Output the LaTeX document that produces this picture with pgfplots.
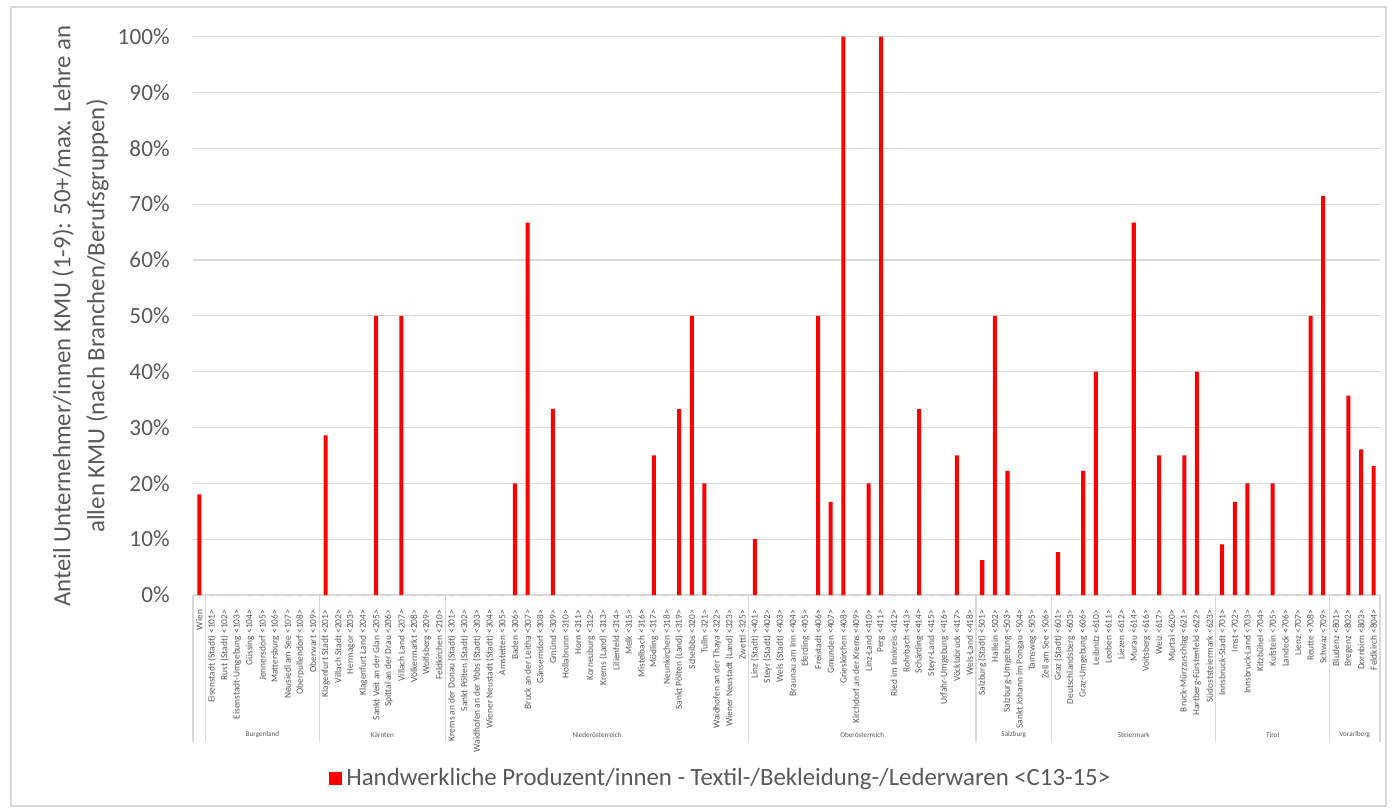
\documentclass[border=0pt]{standalone}
\usepackage{pgfplots}
\pgfplotsset{compat=1.18}
\usepackage{pgfplotstable}
\usepackage{fontspec}
\setmainfont{Carlito}
\definecolor{textgray}{HTML}{595959}
\definecolor{gridgray}{HTML}{D9D9D9}
\definecolor{barred}{HTML}{FF0000}

% Anteil in Prozent je Bezirk (Index 0 = Wien, dann Bundesländer in Reihenfolge)
\pgfplotstableread{
x y
0 18.0
1 0
2 0
3 0
4 0
5 0
6 0
7 0
8 0
9 0
10 28.57
11 0
12 0
13 0
14 50
15 0
16 50
17 0
18 0
19 0
20 0
21 0
22 0
23 0
24 0
25 20
26 66.67
27 0
28 33.33
29 0
30 0
31 0
32 0
33 0
34 0
35 0
36 25
37 0
38 33.33
39 50
40 20
41 0
42 0
43 0
44 10
45 0
46 0
47 0
48 0
49 50
50 16.67
51 100
52 0
53 20
54 100
55 0
56 0
57 33.33
58 0
59 0
60 25
61 0
62 6.25
63 50
64 22.22
65 0
66 0
67 0
68 7.69
69 0
70 22.22
71 40
72 0
73 0
74 66.67
75 0
76 25
77 0
78 25
79 40
80 0
81 9.09
82 16.67
83 20
84 0
85 20
86 0
87 0
88 50
89 71.43
90 0
91 35.71
92 26.09
93 23.08
}\kmudata

\begin{document}
\begin{tikzpicture}
\useasboundingbox (0,0) rectangle (696pt,405.5pt);
\draw[gridgray, line width=0.75pt] (5.5pt,2.5pt) rectangle (693pt,402pt);
\begin{axis}[
  at={(96.5pt,108pt)}, anchor=south west,
  scale only axis, width=593.5pt, height=279.2pt,
  xmin=-0.5, xmax=93.5, ymin=0, ymax=100,
  clip=false,
  ybar, bar width=0.32,
  axis x line*=bottom, axis y line*=left,
  x axis line style={draw=gridgray, line width=0.6pt},
  y axis line style={draw=none},
  ymajorgrids, grid style={draw=gridgray, line width=0.6pt},
  ytick={0,10,20,30,40,50,60,70,80,90,100},
  yticklabels={0\%,10\%,20\%,30\%,40\%,50\%,60\%,70\%,80\%,90\%,100\%},
  yticklabel style={font=\fontsize{11.6}{13}\selectfont, text=textgray, inner sep=0pt, xshift=-11.5pt},
  ytick style={draw=none},
  xtick={0,...,93},
  xticklabels={Wien,
    Eisenstadt (Stadt) <101>,Rust (Stadt) <102>,Eisenstadt-Umgebung <103>,Güssing <104>,Jennersdorf <105>,Mattersburg <106>,Neusiedl am See <107>,Oberpullendorf <108>,Oberwart <109>,
    Klagenfurt Stadt <201>,Villach Stadt <202>,Hermagor <203>,Klagenfurt Land <204>,Sankt Veit an der Glan <205>,Spittal an der Drau <206>,Villach Land <207>,Völkermarkt <208>,Wolfsberg <209>,Feldkirchen <210>,
    Krems an der Donau (Stadt) <301>,Sankt Pölten (Stadt) <302>,Waidhofen an der Ybbs (Stadt) <303>,Wiener Neustadt (Stadt) <304>,Amstetten <305>,Baden <306>,Bruck an der Leitha <307>,Gänserndorf <308>,Gmünd <309>,Hollabrunn <310>,Horn <311>,Korneuburg <312>,Krems (Land) <313>,Lilienfeld <314>,Melk <315>,Mistelbach <316>,Mödling <317>,Neunkirchen <318>,Sankt Pölten (Land) <319>,Scheibbs <320>,Tulln <321>,Waidhofen an der Thaya <322>,Wiener Neustadt (Land) <323>,Zwettl <325>,
    Linz (Stadt) <401>,Steyr (Stadt) <402>,Wels (Stadt) <403>,Braunau am Inn <404>,Eferding <405>,Freistadt <406>,Gmunden <407>,Grieskirchen <408>,Kirchdorf an der Krems <409>,Linz-Land <410>,Perg <411>,Ried im Innkreis <412>,Rohrbach <413>,Schärding <414>,Steyr-Land <415>,Urfahr-Umgebung <416>,Vöcklabruck <417>,Wels-Land <418>,
    Salzburg (Stadt) <501>,Hallein <502>,Salzburg-Umgebung <503>,Sankt Johann im Pongau <504>,Tamsweg <505>,Zell am See <506>,
    Graz (Stadt) <601>,Deutschlandsberg <603>,Graz-Umgebung <606>,Leibnitz <610>,Leoben <611>,Liezen <612>,Murau <614>,Voitsberg <616>,Weiz <617>,Murtal <620>,Bruck-Mürzzuschlag <621>,Hartberg-Fürstenfeld <622>,Südoststeiermark <623>,
    Innsbruck-Stadt <701>,Imst <702>,Innsbruck-Land <703>,Kitzbühel <704>,Kufstein <705>,Landeck <706>,Lienz <707>,Reutte <708>,Schwaz <709>,
    Bludenz <801>,Bregenz <802>,Dornbirn <803>,Feldkirch <804>},
  xticklabel style={rotate=90, anchor=east, font=\fontsize{4.7}{5.4}\selectfont, text=textgray, inner sep=0pt},
  xticklabel shift=3pt,
  xtick style={draw=none},
  legend style={at={(0.1146,-0.3278)}, anchor=west, draw=none, fill=none,
    font=\fontsize{12.4}{14}\selectfont, text=textgray, inner sep=0pt},
  legend image code/.code={\fill[barred] (0pt,-3.25pt) rectangle (6.5pt,3.25pt);},
]
\addplot[fill=barred, draw=none] table[x=x, y=y]{\kmudata};
\addlegendentry{Handwerkliche Produzent/innen - Textil-/Bekleidung-/Lederwaren <C13-15>}

% Trennlinien der Bundesländer unterhalb der Achse
\pgfplotsinvokeforeach{-0.5,0.5,9.5,19.5,43.5,61.5,67.5,80.5,89.5,93.5}{
  \draw[gridgray, line width=0.6pt] (axis cs:#1,0) -- ([yshift=-73.5pt]axis cs:#1,0);
}
% Namen der Bundesländer
\begin{scope}[every node/.style={font=\fontsize{3.6}{4}\selectfont, text=textgray}]
\node at ([yshift=-70pt]axis cs:5,0) {Burgenland};
\node at ([yshift=-70pt]axis cs:14.5,0) {Kärnten};
\node at ([yshift=-70pt]axis cs:31.5,0) {Niederösterreich};
\node at ([yshift=-70pt]axis cs:52.5,0) {Oberösterreich};
\node at ([yshift=-70pt]axis cs:64.5,0) {Salzburg};
\node at ([yshift=-70pt]axis cs:74,0) {Steiermark};
\node at ([yshift=-70pt]axis cs:85,0) {Tirol};
\node at ([yshift=-70pt]axis cs:91.5,0) {Vorarlberg};
\end{scope}
\end{axis}
\node[rotate=90, align=center, font=\fontsize{12.4}{17}\selectfont, text=textgray]
  at (40.25pt,247.5pt) {Anteil Unternehmer/innen KMU (1-9): 50+/max. Lehre an\\allen KMU (nach Branchen/Berufsgruppen)};
\end{tikzpicture}
\end{document}
